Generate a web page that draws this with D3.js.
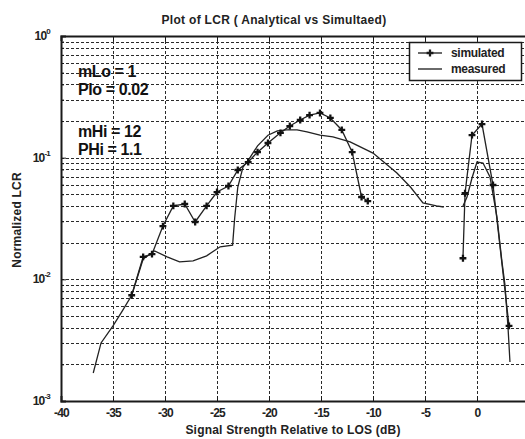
<!DOCTYPE html>
<html><head><meta charset="utf-8">
<script src="https://cdn.jsdelivr.net/npm/d3@7"></script>
<style>
html,body{margin:0;padding:0;background:#fff;}
svg{display:block;font-family:"Liberation Sans",Arial,sans-serif;}
</style></head>
<body>
<svg id="c" width="525" height="439"></svg>
<script>
// ---- data ----
const xTicks = [-40, -35, -30, -25, -20, -15, -10, -5, 0, 5];
const xTickLabels = ["-40", "-35", "-30", "-25", "-20", "-15", "-10", "-5", "0", ""];
const yDecades = [1e-3, 1e-2, 1e-1, 1];
const yDecadeExp = ["-3", "-2", "-1", "0"];

// simulated (with + markers), two segments
const simX1 = [-33.2, -32.1, -31.25, -30.2, -29.2, -28.1, -27.1, -26.0, -25.0, -23.9, -23.0, -22.0, -21.1, -20.1, -18.9, -18.0, -17.0, -16.1, -15.1, -14.1, -13.0, -12.0, -11.1, -10.5];
const simY1 = [0.0074, 0.0153, 0.0161, 0.0274, 0.0401, 0.0416, 0.0296, 0.0401, 0.0522, 0.0585, 0.0792, 0.0921, 0.111, 0.132, 0.160, 0.182, 0.204, 0.224, 0.233, 0.212, 0.169, 0.111, 0.0475, 0.044];
const simX2 = [-1.35, -1.15, -0.48, 0.48, 1.54, 3.08];
const simY2 = [0.0149, 0.051, 0.153, 0.189, 0.0596, 0.00414];

// measured (plain line), two segments
const measX1 = [-36.9, -36.15, -35.0, -34.1, -33.2, -32.1, -31.0, -29.8, -28.6, -27.3, -26.0, -24.7, -23.5, -23.3, -23.0, -22.5, -21.8, -21.1, -20.1, -19.2, -18.3, -17.3, -16.35, -15.1, -13.85, -12.2, -10.0, -7.7, -6.4, -5.2, -3.9, -3.2];
const measY1 = [0.0017, 0.0030, 0.00414, 0.0055, 0.0074, 0.0147, 0.0171, 0.0153, 0.0139, 0.0142, 0.0156, 0.0185, 0.0191, 0.0319, 0.0574, 0.0838, 0.101, 0.125, 0.153, 0.166, 0.169, 0.169, 0.163, 0.153, 0.148, 0.135, 0.109, 0.0748, 0.0574, 0.0424, 0.0401, 0.0393];
const measX2 = [-1.35, -0.96, -0.48, 0.0, 0.58, 1.25, 1.92, 2.40, 2.69, 2.98, 3.17];
const measY2 = [0.0401, 0.0475, 0.068, 0.092, 0.0904, 0.0694, 0.0325, 0.0139, 0.00898, 0.00406, 0.00209];

const titleText = "Plot of LCR ( Analytical vs Simultaed)";
const xLabelText = "Signal Strength Relative to LOS (dB)";
const yLabelText = "Normalized LCR";
const annotations = ["mLo = 1", "Plo = 0.02", "mHi = 12", "PHi = 1.1"];
const legendNames = ["simulated", "measured"];

// ---- drawing ----
const svg = d3.select("#c");
const L = 61, R = 529, T = 36, B = 401;
const x = d3.scaleLinear().domain([-40, 5]).range([L, R]);
const y = d3.scaleLog().domain([1e-3, 1]).range([B, T]);
const ink = "#1a1a1a";

// minor log values
const minors = [];
for (let k = -3; k < 0; k++) for (let m = 2; m <= 9; m++) minors.push(m * Math.pow(10, k));

const grid = svg.append("g").attr("stroke", "#2a2a2a").attr("stroke-width", 1).attr("stroke-dasharray", "3,2").attr("fill", "none");
xTicks.slice(1, -1).forEach(v => grid.append("line").attr("x1", Math.round(x(v)) + 0.5).attr("x2", Math.round(x(v)) + 0.5).attr("y1", T).attr("y2", B));
minors.concat(yDecades.slice(1, -1)).forEach(v => grid.append("line").attr("x1", L).attr("x2", R).attr("y1", Math.round(y(v)) + 0.5).attr("y2", Math.round(y(v)) + 0.5));

// axes
const xAxisB = d3.axisBottom(x).tickValues(xTicks).tickSize(-5).tickPadding(7).tickFormat((d, i) => xTickLabels[i]);
const gx = svg.append("g").attr("transform", `translate(0,${B})`).call(xAxisB);
gx.select(".domain").attr("stroke", ink).attr("stroke-width", 2);
gx.selectAll(".tick line").attr("stroke", ink);
gx.selectAll(".tick text").attr("font-size", 12).attr("font-weight", "bold").attr("fill", "#222").attr("font-family", "Liberation Sans, Arial, sans-serif").attr("letter-spacing", "-0.8");

const xAxisT = d3.axisTop(x).tickValues(xTicks).tickSize(-5).tickFormat("");
const gxt = svg.append("g").attr("transform", `translate(0,${T})`).call(xAxisT);
gxt.select(".domain").attr("stroke", ink).attr("stroke-width", 2);
gxt.selectAll(".tick line").attr("stroke", ink);

const yAxisL = d3.axisLeft(y).tickValues(yDecades).tickSize(-5).tickFormat("");
const gy = svg.append("g").attr("transform", `translate(${L},0)`).call(yAxisL);
gy.select(".domain").attr("stroke", ink).attr("stroke-width", 2);
gy.selectAll(".tick line").attr("stroke", ink);
const yAxisMinor = d3.axisLeft(y).tickValues(minors).tickSize(-3).tickFormat("");
const gym = svg.append("g").attr("transform", `translate(${L},0)`).call(yAxisMinor);
gym.select(".domain").remove();
gym.selectAll(".tick line").attr("stroke", ink);

// y decade labels with superscripts
const yl = svg.append("g").attr("fill", "#222");
yDecades.forEach((v, i) => {
  const t = yl.append("text").attr("x", 50).attr("y", y(v) + 4).attr("text-anchor", "end").attr("font-size", 12).attr("font-weight", "bold").attr("letter-spacing", "-0.8");
  t.append("tspan").text("10");
  t.append("tspan").attr("dy", -6).attr("font-size", 8).text(yDecadeExp[i]);
});

// lines
const line = d3.line().x(d => x(d[0])).y(d => y(d[1]));
const zip = (a, b) => a.map((v, i) => [v, b[i]]);
const series = [
  {pts: zip(measX1, measY1), mark: false},
  {pts: zip(measX2, measY2), mark: false},
  {pts: zip(simX1, simY1), mark: true},
  {pts: zip(simX2, simY2), mark: true}
];
series.forEach(s => {
  svg.append("path").attr("d", line(s.pts)).attr("fill", "none").attr("stroke", "#222").attr("stroke-width", 1.3);
  if (s.mark) {
    const sym = d3.symbol().type(d3.symbolCross).size(26);
    svg.append("g").selectAll("path").data(s.pts).join("path")
      .attr("transform", d => `translate(${x(d[0])},${y(d[1])})`)
      .attr("d", sym).attr("fill", "#111");
  }
});

// annotations
const ann = svg.append("g").attr("fill", "#111").attr("font-size", 16).attr("font-weight", "bold");
const annY = [77, 95, 137, 155];
annotations.forEach((a, i) => ann.append("text").attr("x", 78).attr("y", annY[i]).attr("letter-spacing", "-0.4").text(a));

// legend
const lg = svg.append("g");
lg.append("rect").attr("x", 409.5).attr("y", 42.5).attr("width", 112).attr("height", 38).attr("fill", "#fff").attr("stroke", ink).attr("stroke-width", 1.5);
lg.append("line").attr("x1", 418).attr("x2", 442).attr("y1", 53).attr("y2", 53).attr("stroke", ink).attr("stroke-width", 1.3);
lg.append("path").attr("transform", "translate(430,53)").attr("d", d3.symbol().type(d3.symbolCross).size(26)).attr("fill", ink);
lg.append("line").attr("x1", 418).attr("x2", 442).attr("y1", 69).attr("y2", 69).attr("stroke", ink).attr("stroke-width", 1.3);
legendNames.forEach((n, i) => lg.append("text").attr("x", 451).attr("y", 57 + i * 16).attr("font-size", 12).attr("font-weight", "bold").attr("fill", "#222").attr("letter-spacing", "-0.3").text(n));

// title & labels
svg.append("text").attr("x", 274).attr("y", 24).attr("text-anchor", "middle").attr("font-size", 12).attr("font-weight", "bold").attr("fill", "#222").attr("letter-spacing", "0.3").text(titleText);
svg.append("text").attr("x", 293).attr("y", 434).attr("text-anchor", "middle").attr("font-size", 12).attr("font-weight", "bold").attr("fill", "#222").attr("letter-spacing", "0.2").text(xLabelText);
svg.append("text").attr("transform", "translate(21,220) rotate(-90)").attr("text-anchor", "middle").attr("font-size", 12).attr("font-weight", "bold").attr("fill", "#222").attr("letter-spacing", "0.2").text(yLabelText);
</script>
</body></html>
